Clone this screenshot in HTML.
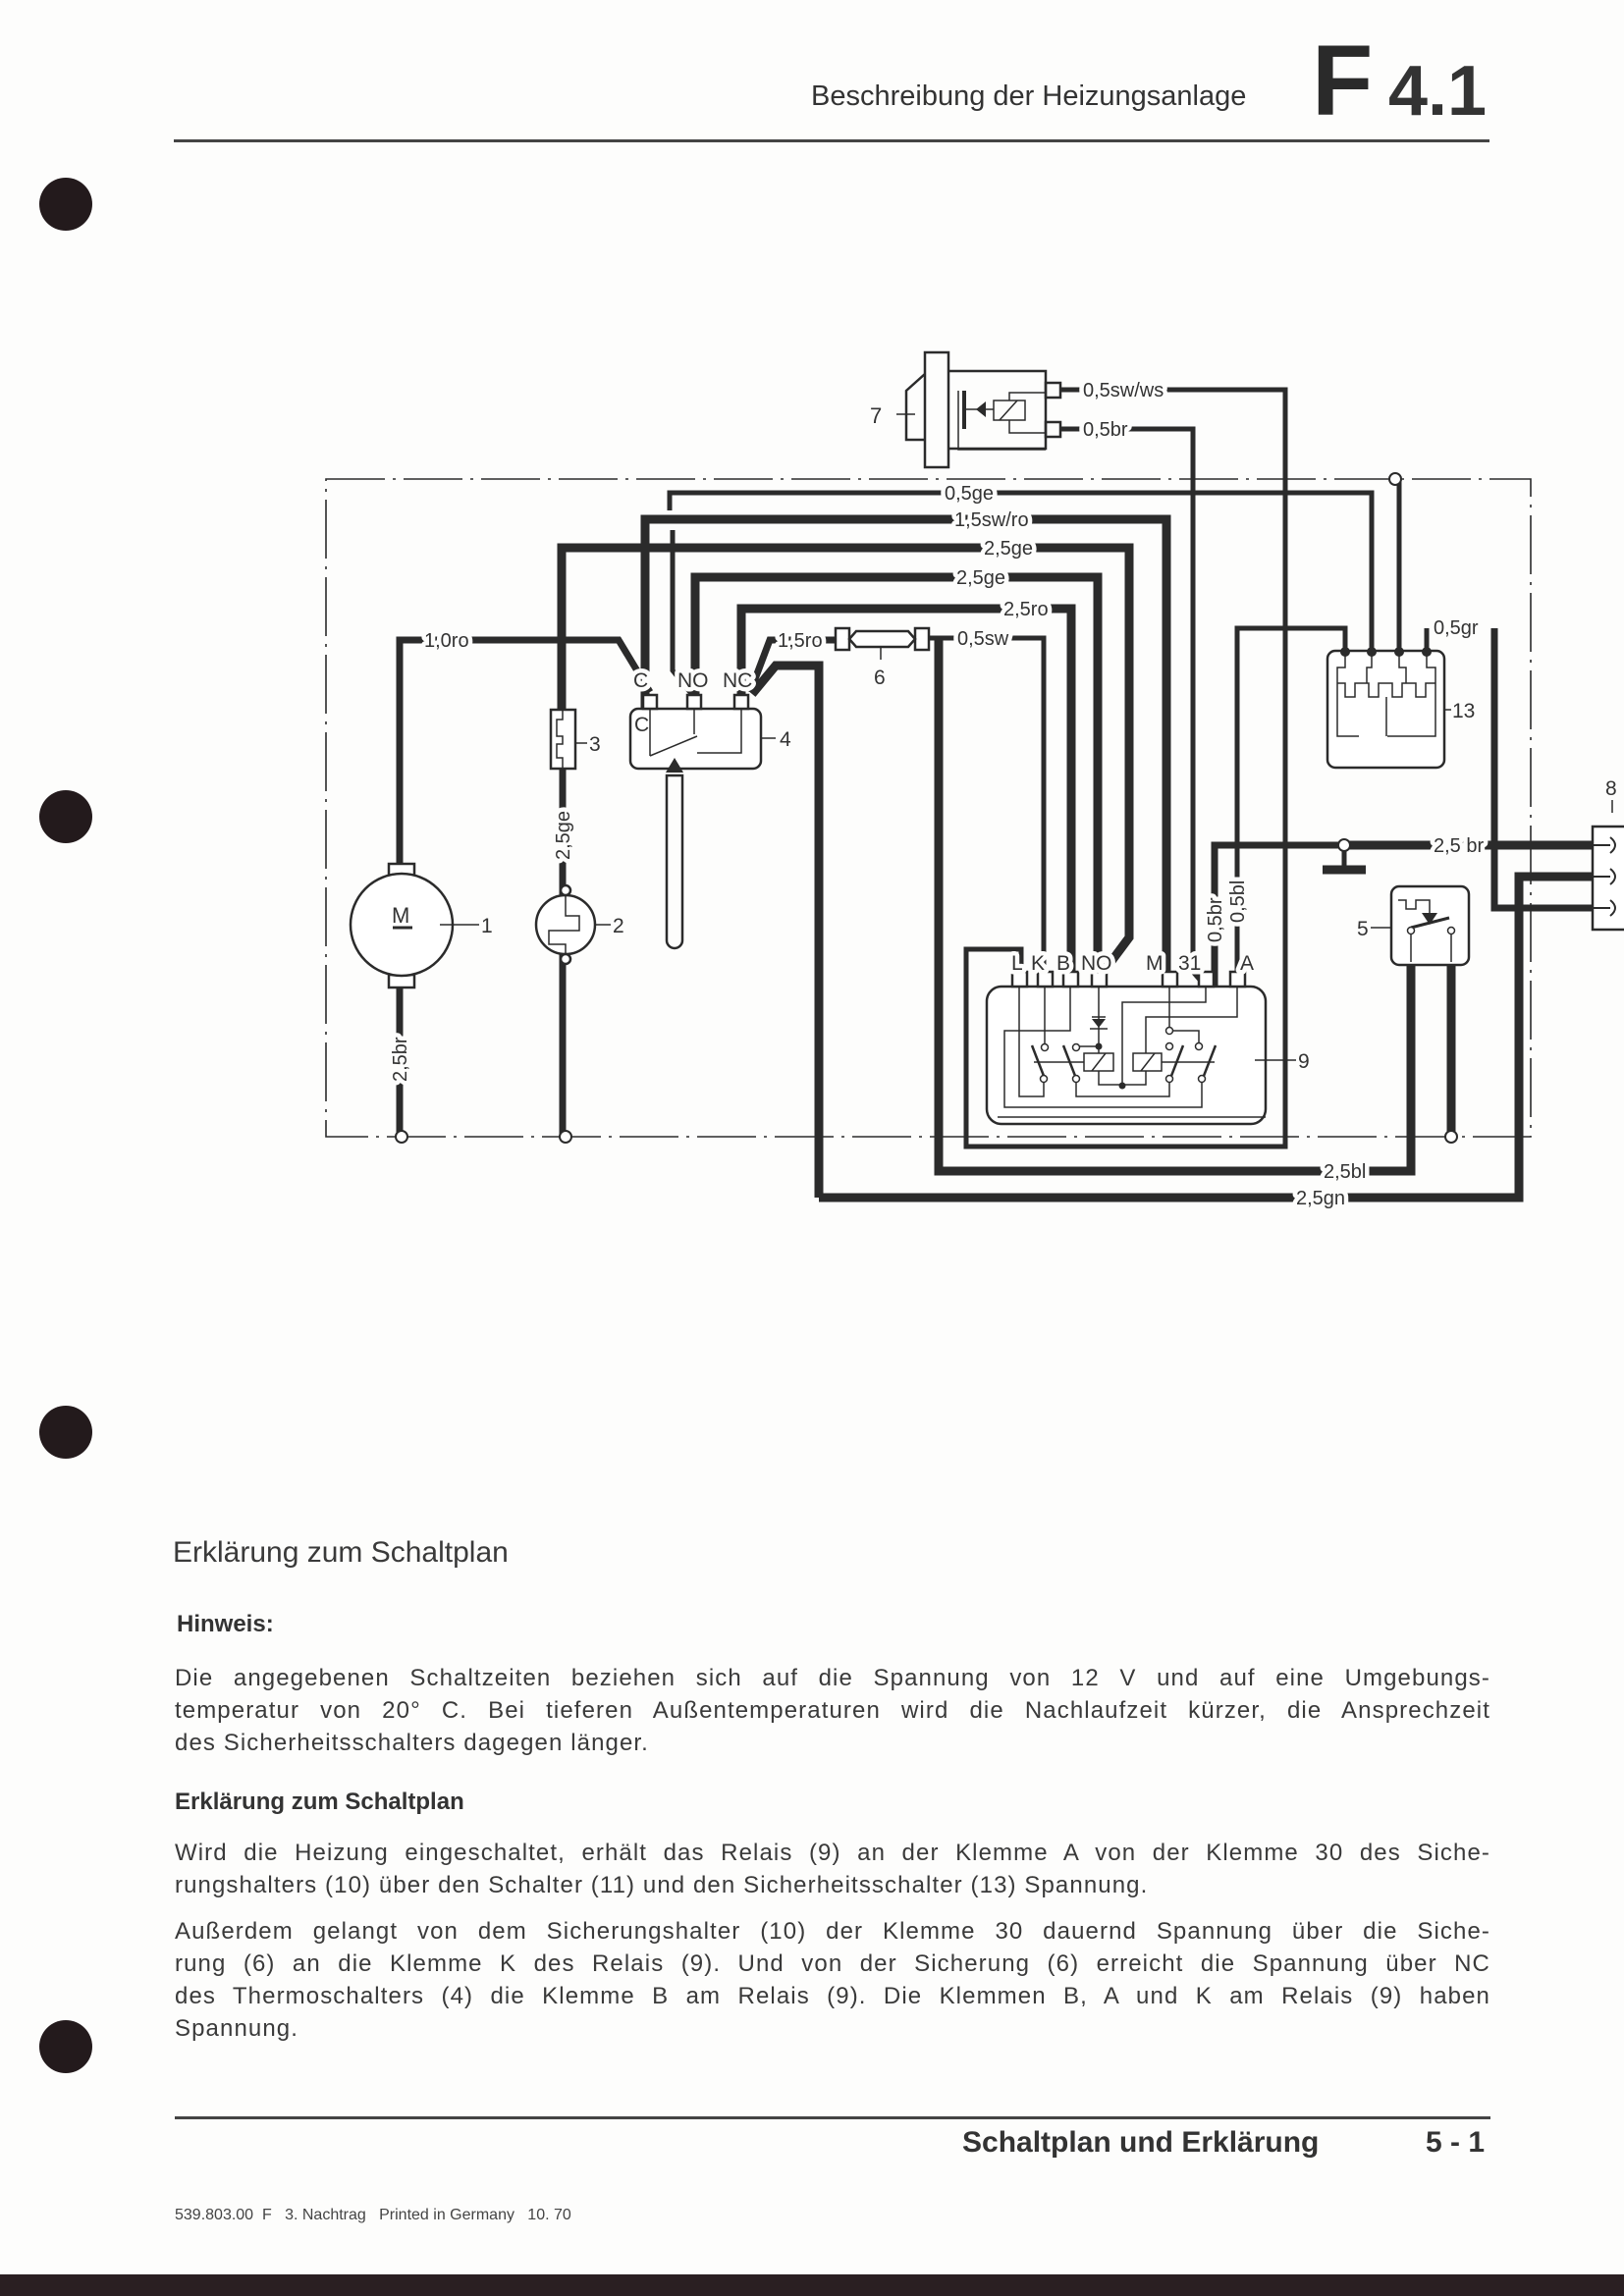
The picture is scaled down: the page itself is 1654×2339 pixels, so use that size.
<!DOCTYPE html>
<html><head><meta charset="utf-8"><style>
html,body{margin:0;padding:0;background:#fdfdfc;}
body{width:1654px;height:2339px;position:relative;overflow:hidden;font-family:"Liberation Sans",sans-serif;color:#333;}
.t{position:absolute;white-space:nowrap;}
.p{position:absolute;left:178px;width:1340px;font-size:24px;letter-spacing:1.1px;line-height:33px;text-align:justify;color:#3a3a3a;}
.p span{display:block;text-align-last:justify;white-space:nowrap;}
.p span.l{text-align-last:left;}
</style></head><body>
<div class="t" style="left:826px;top:82px;font-size:29px;color:#333;">Beschreibung der Heizungsanlage</div>
<div class="t" style="left:1336px;top:32px;font-size:102px;font-weight:bold;color:#2a2a2a;line-height:100px;">F</div>
<div class="t" style="left:1414px;top:58px;font-size:72px;font-weight:bold;color:#333;line-height:70px;">4.1</div>
<div style="position:absolute;left:177px;top:142px;width:1340px;height:3px;background:#444;"></div>

<div style="position:absolute;left:40px;top:181px;width:54px;height:54px;border-radius:50%;background:#231a1c;"></div>
<div style="position:absolute;left:40px;top:805px;width:54px;height:54px;border-radius:50%;background:#231a1c;"></div>
<div style="position:absolute;left:40px;top:1432px;width:54px;height:54px;border-radius:50%;background:#231a1c;"></div>
<div style="position:absolute;left:40px;top:2058px;width:54px;height:54px;border-radius:50%;background:#231a1c;"></div>

<svg style="position:absolute;left:0;top:0" width="1654" height="1300" viewBox="0 0 1654 1300" font-family="Liberation Sans, sans-serif" fill="none" stroke="#2b2b2b">
<!-- frame -->
<g stroke-width="1.6" stroke-dasharray="60,8,3,8">
<path d="M332 488 H1559 V1158 H332 Z"/>
</g>
<!-- component 7 -->
<g stroke-width="2.5">
<rect x="942" y="359" width="24" height="117"/>
<path d="M942 381 L923 398 V448 H942"/>
<path d="M966 378 H1065 V457 H966"/>
<rect x="1065" y="390" width="15" height="15"/><rect x="1065" y="430" width="15" height="15"/>
<path d="M976 398 V458 H1065" stroke-width="1.5"/>
<path d="M982 398 V437" stroke-width="4"/>
<path d="M983 417 H1012" stroke-width="1.5"/>
<rect x="1012" y="408" width="32" height="20" stroke-width="1.5"/>
<path d="M1018 428 L1036 408 M1028 408 V400 H1065 M1028 428 V441 H1065" stroke-width="1.5"/>
</g>
<path d="M994 417 L1004 409 V425 Z" fill="#2b2b2b" stroke="none"/>
<path d="M913 422 H932" stroke-width="1.5"/>
<text x="886" y="431" font-size="22" fill="#333" stroke="none">7</text>

<!-- thick wires -->
<g stroke-width="9" stroke-linejoin="miter">
<path d="M657 722 V529 H1188 V1005"/>
<path d="M572 723 V558 H1150 V955 L1124 990"/>
<path d="M708 708 V588 H1118 V990"/>
<path d="M755 708 V620 H1091 V1005"/>
<path d="M834 1220 H1547 V893 H1622"/>
<path d="M834 1220 V678 H790 L766 707"/>
<path d="M956 650 V1193 H1437 V980"/>
<path d="M1478 980 V1158"/>
<path d="M1369 861 H1622"/>
<path d="M1347 886 H1391"/>
</g>
<g stroke-width="7">
<path d="M407 1158 V1007"/>
<path d="M407 880 V652 H630 L662 705"/>
<path d="M764 705 L784 652 H851"/>
<path d="M573 783 V912 M573 972 V1158"/>
<path d="M1237 1005 L1237 990 V861 H1369"/>
<path d="M1522 640 V925 H1622"/>
</g>
<!-- thin wires -->
<g stroke-width="5">
<path d="M1080 397 H1309 V1168 H984 V967 H1040 V1005"/>
<path d="M1080 437 H1215 V990 L1228 1005"/>
<path d="M682 520 V502 H1397 V663"/>
<path d="M685 540 V683 L705 708"/>
<path d="M946 650 H1063 V1005"/>
<path d="M1370 663 V640 H1260 V1005"/>
<path d="M1425 663 V490"/>
<path d="M1453 663 V640"/>
<path d="M1369 866 V886"/>
</g>
<circle cx="1421" cy="488" r="6" fill="#fff" stroke-width="2"/>
<circle cx="1369" cy="861" r="6" fill="#fff" stroke-width="2"/>
<circle cx="409" cy="1158" r="6" fill="#fff" stroke-width="2"/>
<circle cx="576" cy="1158" r="6" fill="#fff" stroke-width="2"/>
<circle cx="1478" cy="1158" r="6" fill="#fff" stroke-width="2"/>

<!-- fuse 6 -->
<g stroke-width="2.5" fill="#fff">
<rect x="851" y="640" width="14" height="22"/><rect x="932" y="640" width="14" height="22"/>
<path d="M872 643 H925 L932 651 L925 659 H872 L865 651 Z"/>
</g>
<path d="M897 659 V672" stroke-width="1.5"/>
<text x="890" y="697" font-size="21" fill="#333" stroke="none">6</text>

<!-- fuse 3 -->
<g stroke-width="2.5"><rect x="561" y="723" width="25" height="60" fill="#fff"/>
<path d="M573 723 V733 H567 V750 H573 V758 H567 V772 H573 V783" stroke-width="1.5"/><path d="M586 757 H598" stroke-width="1.5"/></g>
<text x="600" y="765" font-size="21" fill="#333" stroke="none">3</text>

<!-- thermoswitch 4 -->
<g stroke-width="2.5">
<rect x="642" y="722" width="133" height="61" rx="8" fill="#fff"/>
<rect x="655" y="708" width="14" height="14" fill="#fff"/><rect x="700" y="708" width="14" height="14" fill="#fff"/><rect x="748" y="708" width="14" height="14" fill="#fff"/>
<path d="M662 722 V770 M662 770 L710 750 M707 722 V748 M755 722 V767 H710" stroke-width="1.5"/>
<path d="M679 790 H695 V958 A8 8 0 0 1 679 958 Z"/>
<path d="M775 752 H790" stroke-width="1.5"/>
</g>
<path d="M678 787 L687 772 L696 787 Z" fill="#2b2b2b" stroke="none"/>
<text x="794" y="760" font-size="21" fill="#333" stroke="none">4</text>

<!-- motor 1 -->
<g stroke-width="2.5">
<rect x="396" y="880" width="26" height="13" fill="#fff"/><rect x="396" y="993" width="26" height="13" fill="#fff"/>
<circle cx="409" cy="942" r="52" fill="#fff"/>
<path d="M400 945 H420" stroke-width="3"/><path d="M448 942 H488" stroke-width="1.5"/>
</g>
<text x="399" y="940" font-size="22" fill="#333" stroke="none">M</text>
<text x="490" y="950" font-size="21" fill="#333" stroke="none">1</text>
<!-- component 2 -->
<g stroke-width="2.5">
<circle cx="576" cy="942" r="30" fill="#fff"/>
<circle cx="576" cy="907" r="5" fill="#fff"/><circle cx="576" cy="977" r="5" fill="#fff"/>
<path d="M576 912 V933 H590 V948 H559 V962 H576 V972" stroke-width="1.5"/><path d="M606 942 H622" stroke-width="1.5"/>
</g>
<text x="624" y="950" font-size="21" fill="#333" stroke="none">2</text>

<!-- 13 -->
<g stroke-width="2.5">
<rect x="1352" y="663" width="119" height="119" rx="8" fill="#fff"/>
<path d="M1370 663 V680 H1362 V750 H1384 M1397 663 V680 H1392 V696 M1425 663 V680 H1432 V696 M1453 663 V680 H1462 V750 H1413" stroke-width="1.5"/>
<path d="M1362 696 H1370 V710 H1380 V696 H1394 V710 H1404 V696 H1418 V710 H1428 V696 H1442 V710 H1452 V696 H1462 M1412 710 V750" stroke-width="1.5"/>
<path d="M1471 723 H1478" stroke-width="1.5"/>
</g>
<g fill="#2b2b2b" stroke="none"><circle cx="1370" cy="664" r="5"/><circle cx="1397" cy="664" r="5"/><circle cx="1425" cy="664" r="5"/><circle cx="1453" cy="664" r="5"/></g>
<text x="1479" y="731" font-size="21" fill="#333" stroke="none">13</text>

<!-- relay 9 -->
<g stroke-width="2.5">
<rect x="1005" y="1005" width="284" height="140" rx="15" fill="#fff"/>
<g fill="#fff"><rect x="1031" y="990" width="15" height="15"/><rect x="1057" y="990" width="15" height="15"/><rect x="1083" y="990" width="15" height="15"/><rect x="1112" y="990" width="15" height="15"/><rect x="1184" y="990" width="15" height="15"/><rect x="1221" y="990" width="15" height="15"/><rect x="1253" y="990" width="15" height="15"/></g>
<g stroke-width="1.5">
<path d="M1038 1005 V1117 H1063 V1100 M1064 1005 V1063 M1090 1005 V1050 H1023 V1128 H1224 V1100"/>
<path d="M1119 1005 V1073 M1098 1066 H1119 M1119 1091 V1105 H1167 V1091 M1228 1005 V1021 H1143 V1106 M1260 1005 V1036 H1167 V1073"/>
<path d="M1191 1005 V1047 M1194 1050 H1221 V1063 M1096 1100 V1117 H1191 V1100 M1016 1138 H1289"/>
<rect x="1104" y="1073" width="30" height="18"/><rect x="1154" y="1073" width="29" height="18"/>
<path d="M1112 1091 L1126 1073 M1162 1091 L1176 1073 M1053 1082 H1104 M1183 1082 H1237"/>
<path d="M1051 1065 L1063 1096 M1083 1065 L1095 1096 M1205 1065 L1193 1096 M1238 1065 L1226 1096" stroke-width="2.5"/>
<path d="M1278 1080 H1320"/>
</g>
<g stroke-width="1.5" fill="#fff"><circle cx="1064" cy="1067" r="3.5"/><circle cx="1096" cy="1067" r="3.5"/><circle cx="1063" cy="1099" r="3.5"/><circle cx="1096" cy="1099" r="3.5"/><circle cx="1191" cy="1050" r="3.5"/><circle cx="1191" cy="1066" r="3.5"/><circle cx="1221" cy="1066" r="3.5"/><circle cx="1191" cy="1099" r="3.5"/><circle cx="1224" cy="1099" r="3.5"/></g>
<path d="M1112 1036 H1126 M1110 1048 H1128" stroke-width="1.5"/>
</g>
<path d="M1112 1038 L1126 1038 L1119 1047 Z" fill="#2b2b2b" stroke="none"/>
<g fill="#2b2b2b" stroke="none"><circle cx="1119" cy="1066" r="3.5"/><circle cx="1143" cy="1106" r="3.5"/></g>

<!-- switch 5 -->
<g stroke-width="2.5">
<rect x="1417" y="903" width="79" height="80" rx="8" fill="#fff"/>
<path d="M1424 917 H1432 V926 H1442 V917 H1456 V930" stroke-width="1.5"/>
<path d="M1437 945 L1476 935" stroke-width="3"/>
<path d="M1437 948 V980 M1478 948 V980 M1396 945 H1418" stroke-width="1.5"/>
<circle cx="1437" cy="948" r="3.5" fill="#fff" stroke-width="1.5"/><circle cx="1478" cy="948" r="3.5" fill="#fff" stroke-width="1.5"/>
</g>
<path d="M1448 930 L1464 930 L1456 942 Z" fill="#2b2b2b" stroke="none"/>
<text x="1382" y="953" font-size="21" fill="#333" stroke="none">5</text>

<!-- connector 8 -->
<g stroke-width="2.5">
<path d="M1654 842 H1622 V947 H1654" fill="#fff"/>
<path d="M1622 861 H1640 M1640 853 Q1650 861 1640 869 M1622 893 H1640 M1640 885 Q1650 893 1640 901 M1622 925 H1640 M1640 917 Q1650 925 1640 933" stroke-width="2"/>
<path d="M1642 815 V828" stroke-width="1.5"/>
</g>
<text x="1635" y="810" font-size="21" fill="#333" stroke="none">8</text>

<!-- labels with halo -->
<g fill="#333" stroke="#fdfdfc" stroke-width="9" paint-order="stroke" stroke-linejoin="round" font-size="20">
<text x="1103" y="404">0,5sw/ws</text>
<text x="1103" y="444">0,5br</text>
<text x="962" y="509">0,5ge</text>
<text x="972" y="536">1,5sw/ro</text>
<text x="1002" y="565">2,5ge</text>
<text x="974" y="595">2,5ge</text>
<text x="1022" y="627">2,5ro</text>
<text x="975" y="657">0,5sw</text>
<text x="432" y="659">1,0ro</text>
<text x="792" y="659">1,5ro</text>
<text x="1460" y="646">0,5gr</text>
<text x="1460" y="868">2,5 br</text>
<text x="1348" y="1200">2,5bl</text>
<text x="1320" y="1227">2,5gn</text>
<text transform="translate(414 1102) rotate(-90)">2,5br</text>
<text transform="translate(580 876) rotate(-90)">2,5ge</text>
<text transform="translate(1244 960) rotate(-90)">0,5br</text>
<text transform="translate(1267 940) rotate(-90)">0,5bl</text>
<text x="645" y="700" font-size="21">C</text><text x="690" y="700" font-size="21">NO</text><text x="736" y="700" font-size="21">NC</text>
<text x="1030" y="988" font-size="21">L</text><text x="1050" y="988" font-size="21">K</text><text x="1076" y="988" font-size="21">B</text><text x="1101" y="988" font-size="21">NO</text><text x="1167" y="988" font-size="21">M</text><text x="1200" y="988" font-size="21">31</text><text x="1263" y="988" font-size="21">A</text>
</g>
<g fill="#333" stroke="none" font-size="21">
<text x="646" y="745">C</text>
<text x="1322" y="1088">9</text>
</g>
</svg>

<div class="t" style="left:176px;top:1565px;font-size:30px;color:#3a3a3a;">Erklärung zum Schaltplan</div>
<div class="t" style="left:180px;top:1641px;font-size:24px;font-weight:bold;color:#333;">Hinweis:</div>
<div class="p" style="top:1693px;">
<span>Die angegebenen Schaltzeiten beziehen sich auf die Spannung von 12 V und auf eine Umgebungs-</span>
<span>temperatur von 20° C. Bei tieferen Außentemperaturen wird die Nachlaufzeit kürzer, die Ansprechzeit</span>
<span class="l">des Sicherheitsschalters dagegen länger.</span>
</div>
<div class="t" style="left:178px;top:1822px;font-size:24px;font-weight:bold;color:#333;">Erklärung zum Schaltplan</div>
<div class="p" style="top:1871px;">
<span>Wird die Heizung eingeschaltet, erhält das Relais (9) an der Klemme A von der Klemme 30 des Siche-</span>
<span class="l">rungshalters (10) über den Schalter (11) und den Sicherheitsschalter (13) Spannung.</span>
</div>
<div class="p" style="top:1951px;">
<span>Außerdem gelangt von dem Sicherungshalter (10) der Klemme 30 dauernd Spannung über die Siche-</span>
<span>rung (6) an die Klemme K des Relais (9). Und von der Sicherung (6) erreicht die Spannung über NC</span>
<span>des Thermoschalters (4) die Klemme B am Relais (9). Die Klemmen B, A und K am Relais (9) haben</span>
<span class="l">Spannung.</span>
</div>
<div style="position:absolute;left:178px;top:2156px;width:1340px;height:3px;background:#444;"></div>
<div class="t" style="left:980px;top:2166px;font-size:30px;font-weight:bold;color:#333;">Schaltplan und Erklärung</div>
<div class="t" style="left:1452px;top:2166px;font-size:30px;font-weight:bold;color:#333;">5 - 1</div>
<div class="t" style="left:178px;top:2248px;font-size:16px;color:#444;">539.803.00&nbsp;&nbsp;F&nbsp;&nbsp;&nbsp;3. Nachtrag&nbsp;&nbsp;&nbsp;Printed in Germany&nbsp;&nbsp;&nbsp;10. 70</div>
<div style="position:absolute;left:0;top:2317px;width:1654px;height:22px;background:#2a1f22;"></div>
</body></html>
